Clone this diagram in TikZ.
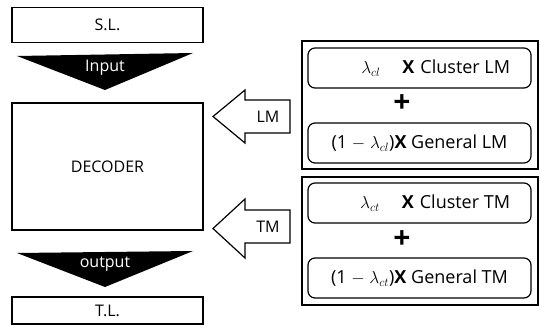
\documentclass[tikz,border=0pt]{standalone}
\usepackage{fontspec}
\setmainfont{Open Sans}
\usetikzlibrary{calc}

\begin{document}
\begin{tikzpicture}[x=1pt, y=-1pt,
  box/.style={draw, line width=1.2pt, minimum width=191pt, inner sep=0pt, font=\fontsize{16}{18}\selectfont},
  flow/.style={fill=black},
  flowtxt/.style={text=white, font=\fontsize{16}{18}\selectfont},
  blockarr/.style={draw, line width=1.2pt, fill=white, line join=miter},
  panel/.style={draw, line width=2pt, minimum width=236pt, minimum height=128pt, inner sep=0pt},
  term/.style={draw, line width=1.2pt, rounded corners=7pt, minimum width=223pt, minimum height=40pt, inner sep=0pt},
  termtxt/.style={font=\fontsize{18}{20}\selectfont},
  plus/.style={font=\fontsize{30}{30}\selectfont\bfseries, inner sep=0pt},
]
\useasboundingbox (0,0) rectangle (540,334);

% Left column: source, decoder, target
\node[box, minimum height=35pt] (sl) at (107.5,25) {S.L.};
\node[box, minimum height=127pt] (decoder) at (107.5,166.5) {DECODER};
\node[box, minimum height=27pt] (tl) at (107.5,310.5) {T.L.};

% Black down arrows between the boxes
\fill[flow] (17,56) -- (193,53) -- (105,90) -- cycle;
\node[flowtxt] (input) at (105,67.5) {Input};
\fill[flow] (17,253) -- (193,251) -- (105,287) -- cycle;
\node[flowtxt] (output) at (105,264) {output};

% Block arrows into the decoder
\draw[blockarr] (213,116.5) -- (245,90) -- (245,100) -- (290,100) -- (290,133)
  -- (245,133) -- (245,143) -- cycle;
\node[font=\fontsize{16}{18}\selectfont] (lm) at (268,117) {LM};
\draw[blockarr] (213,228.5) -- (245,199) -- (245,210) -- (290,210) -- (290,243)
  -- (245,243) -- (245,258) -- cycle;
\node[font=\fontsize{16}{18}\selectfont] (tm) at (268,227) {TM};

% Interpolated language model
\node[panel] (lmpanel) at (420,105) {};
\node[term] (clm) at (419.5,68) {};
\node[termtxt, anchor=east] at (clm.east) [xshift=-18pt] {$\lambda_{cl}$\hspace{22pt}\textbf{X}\hspace{6pt}Cluster LM};
\node[plus] (lmplus) at (402,104) {+};
\node[term] (glm) at (419.5,143) {};
\node[termtxt] at (glm.center) {(1 $-$ $\lambda_{cl}$)\textbf{X} General LM};

% Interpolated translation model
\node[panel] (tmpanel) at (420,241) {};
\node[term] (ctm) at (419.5,203) {};
\node[termtxt, anchor=east] at (ctm.east) [xshift=-18pt] {$\lambda_{ct}$\hspace{22pt}\textbf{X}\hspace{6pt}Cluster TM};
\node[plus] (tmplus) at (402,240) {+};
\node[term] (gtm) at (419.5,278) {};
\node[termtxt] at (gtm.center) {(1 $-$ $\lambda_{ct}$)\textbf{X} General TM};
\end{tikzpicture}
\end{document}
